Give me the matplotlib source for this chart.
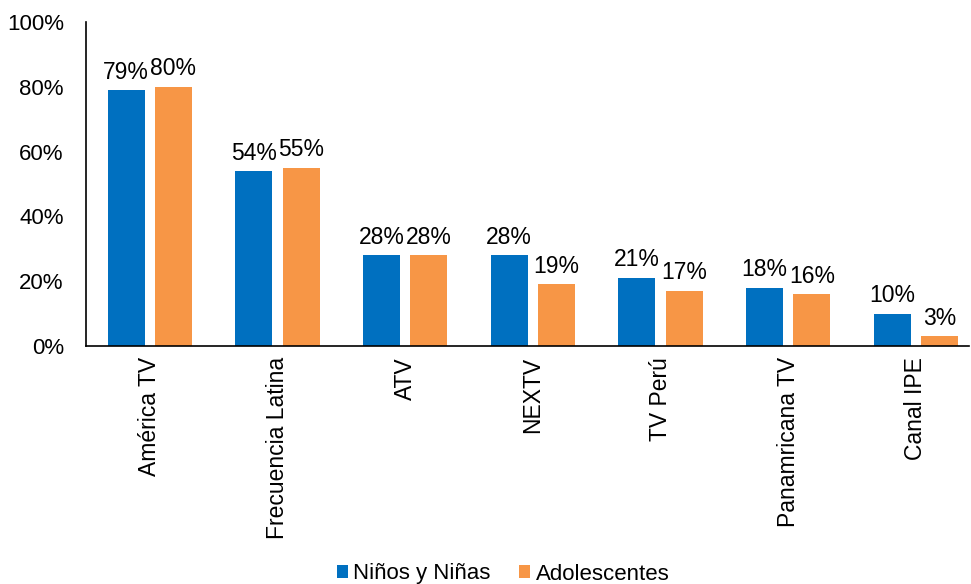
import matplotlib
matplotlib.use("Agg")
import matplotlib.pyplot as plt
import numpy as np

plt.rcParams['font.family'] = ['Liberation Sans', 'DejaVu Sans']

categories = ["América TV", "Frecuencia Latina", "ATV", "NEXTV", "TV Perú", "Panamricana TV", "Canal IPE"]
ninos = [79, 54, 28, 28, 21, 18, 10]
adolescentes = [80, 55, 28, 19, 17, 16, 3]
series_names = ["Niños y Niñas", "Adolescentes"]
colors = ["#0070C0", "#F79646"]

fig = plt.figure(figsize=(9.71, 5.84), dpi=100)
ax = fig.add_axes([86/971, 1-346/584, 883/971, (346-22)/584])

x = np.arange(len(categories))
w = 0.29
offset = 0.185
b1 = ax.bar(x - offset, ninos, w, color=colors[0], label=series_names[0])
b2 = ax.bar(x + offset, adolescentes, w, color=colors[1], label=series_names[1])

for bars, vals in ((b1, ninos), (b2, adolescentes)):
    for r, v in zip(bars, vals):
        ax.text(r.get_x() + r.get_width()/2, v + 2.0, f"{v}%", ha='center', va='bottom', fontsize=16.5)

ax.set_xlim(-0.5, -0.5 + 883/127.67)
ax.set_ylim(0, 100)
ax.set_yticks(range(0, 101, 20))
ax.set_yticklabels([f"{t}%" for t in range(0, 101, 20)], fontsize=16)
ax.set_xticks(x)
ax.set_xticklabels(categories, rotation=90, fontsize=16.5)
ax.tick_params(axis='both', length=0)
ax.tick_params(axis='y', pad=16)
ax.tick_params(axis='x', pad=8)
for s in ('top', 'right'):
    ax.spines[s].set_visible(False)
ax.spines['left'].set_linewidth(1.2)
ax.spines['bottom'].set_linewidth(1.2)

fig.legend(handles=[b1, b2], labels=series_names, loc='center', bbox_to_anchor=(503/971, 1-574/584),
           ncol=2, frameon=False, fontsize=16, handlelength=0.5, handleheight=0.5,
           handletextpad=0.23, columnspacing=1.3)

fig.savefig("out.png", dpi=100)
